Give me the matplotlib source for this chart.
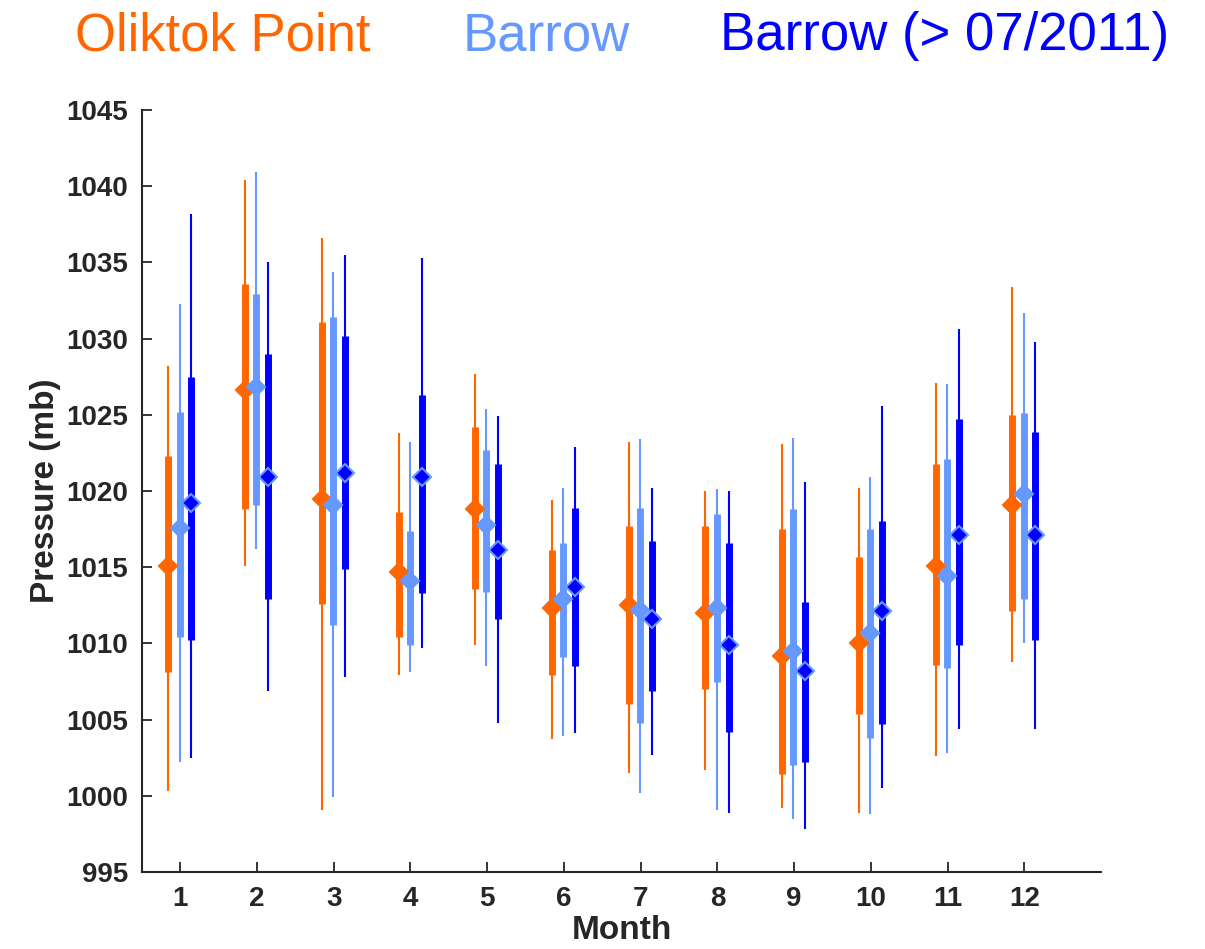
import numpy as np
import matplotlib
matplotlib.use('Agg')
import matplotlib.pyplot as plt

plt.rcParams['font.family'] = ['Liberation Sans', 'DejaVu Sans']

months = np.arange(1, 13)
series_names = ['Oliktok Point', 'Barrow', 'Barrow (> 07/2011)']

# whisker top, box top, median, box bottom, whisker bottom (mb)
oliktok_hi = [1028.2, 1040.4, 1036.6, 1023.8, 1027.7, 1019.4, 1023.2, 1020.0, 1023.1, 1020.2, 1027.1, 1033.4]
oliktok_q3 = [1022.3, 1033.6, 1031.1, 1018.6, 1024.2, 1016.1, 1017.7, 1017.7, 1017.5, 1015.7, 1021.8, 1025.0]
oliktok_med = [1015.1, 1026.6, 1019.5, 1014.7, 1018.8, 1012.3, 1012.5, 1012.0, 1009.2, 1010.0, 1015.1, 1019.1]
oliktok_q1 = [1008.1, 1018.8, 1012.6, 1010.4, 1013.6, 1007.9, 1006.0, 1007.0, 1001.4, 1005.4, 1008.6, 1012.1]
oliktok_lo = [1000.3, 1015.1, 999.1, 1007.9, 1009.9, 1003.7, 1001.5, 1001.7, 999.2, 998.9, 1002.6, 1008.8]

barrow_hi = [1032.3, 1040.9, 1034.4, 1023.2, 1025.4, 1020.2, 1023.4, 1020.1, 1023.5, 1020.9, 1027.0, 1031.7]
barrow_q3 = [1025.2, 1032.9, 1031.4, 1017.4, 1022.7, 1016.6, 1018.9, 1018.5, 1018.8, 1017.5, 1022.1, 1025.1]
barrow_med = [1017.6, 1026.8, 1019.1, 1014.1, 1017.8, 1012.9, 1012.2, 1012.3, 1009.5, 1010.7, 1014.4, 1019.8]
barrow_q1 = [1010.4, 1019.1, 1011.2, 1009.9, 1013.4, 1009.1, 1004.8, 1007.5, 1002.0, 1003.8, 1008.4, 1012.9]
barrow_lo = [1002.2, 1016.2, 999.9, 1008.1, 1008.5, 1003.9, 1000.2, 999.1, 998.5, 998.8, 1002.8, 1010.0]

recent_hi = [1038.2, 1035.0, 1035.5, 1035.3, 1024.9, 1022.9, 1020.2, 1020.0, 1020.6, 1025.6, 1030.6, 1029.8]
recent_q3 = [1027.5, 1029.0, 1030.2, 1026.3, 1021.8, 1018.9, 1016.7, 1016.6, 1012.7, 1018.0, 1024.7, 1023.9]
recent_med = [1019.2, 1020.9, 1021.2, 1020.9, 1016.1, 1013.7, 1011.6, 1009.9, 1008.2, 1012.1, 1017.1, 1017.1]
recent_q1 = [1010.2, 1012.9, 1014.9, 1013.3, 1011.6, 1008.5, 1006.9, 1004.2, 1002.2, 1004.7, 1009.9, 1010.2]
recent_lo = [1002.5, 1006.9, 1007.8, 1009.7, 1004.8, 1004.1, 1002.7, 998.9, 997.8, 1000.5, 1004.4, 1004.4]

orange = '#FF6600'
light_blue = '#6699FF'
blue = '#0000FF'

fig = plt.figure(figsize=(12.05, 9.49), dpi=100)
ax = fig.add_axes([0.1178, 0.0811, 0.7959, 0.803])

groups = [
    (oliktok_lo, oliktok_q1, oliktok_med, oliktok_q3, oliktok_hi, orange, orange, -0.155),
    (barrow_lo, barrow_q1, barrow_med, barrow_q3, barrow_hi, light_blue, light_blue, -0.01),
    (recent_lo, recent_q1, recent_med, recent_q3, recent_hi, blue, light_blue, 0.145),
]

for lo, q1, med, q3, hi, col, edge, off in groups:
    x = months + off
    ax.vlines(x, lo, hi, colors=col, linewidth=1.5, zorder=2)
    ax.vlines(x, q1, q3, colors=col, linewidth=5, zorder=3)
    ax.plot(x, med, linestyle='none', marker='D', markersize=9,
            markerfacecolor=col, markeredgecolor=edge, markeredgewidth=1.5, zorder=4)

ax.set_xlim(0.5, 13)
ax.set_ylim(995, 1045)
ax.set_xticks(months)
ax.set_yticks(np.arange(995, 1046, 5))

for s in ['top', 'right']:
    ax.spines[s].set_visible(False)
for s in ['left', 'bottom']:
    ax.spines[s].set_color('#262626')
    ax.spines[s].set_linewidth(1.5)

ax.tick_params(direction='in', length=7.5, width=1.3, color='#262626',
               labelsize=20, labelcolor='#262626', pad=10)
for lab in ax.get_xticklabels() + ax.get_yticklabels():
    lab.set_fontweight('bold')

ax.set_xlabel('Month', fontsize=24, fontweight='bold', color='#262626', labelpad=2)
ax.set_ylabel('Pressure (mb)', fontsize=24, fontweight='bold', color='#262626', labelpad=4)

fig.text(0.0622, 0.947, series_names[0], color=orange, fontsize=38)
fig.text(0.3842, 0.947, series_names[1], color=light_blue, fontsize=38)
fig.text(0.5975, 0.947, series_names[2], color=blue, fontsize=38)

fig.savefig('out.png', dpi=100)
